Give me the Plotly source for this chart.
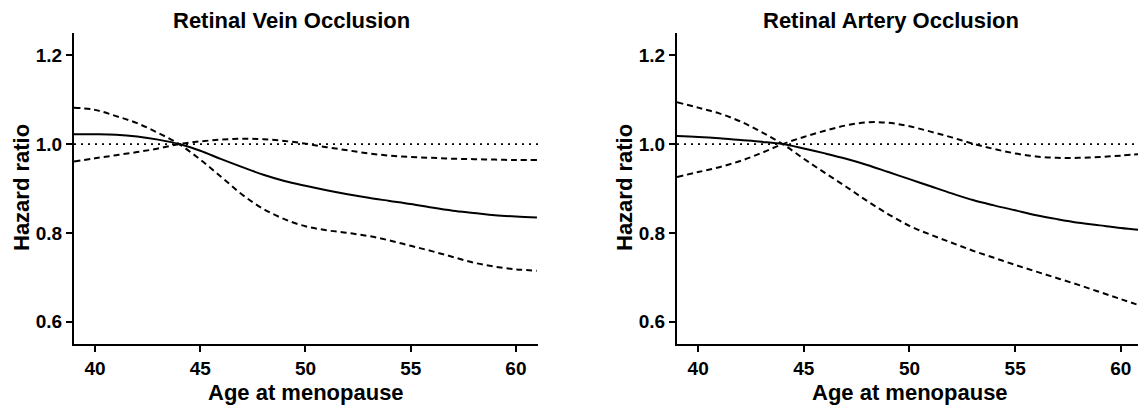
import plotly.graph_objects as go
from plotly.subplots import make_subplots

age = [39, 40, 41, 42, 43, 44, 45, 46, 47, 48, 49, 50, 51, 52, 53, 54, 55, 56, 57, 58, 59, 60, 61]

rvo_hr = [1.022, 1.022, 1.021, 1.017, 1.010, 1.000, 0.985, 0.966, 0.948, 0.931, 0.917, 0.906, 0.896,
          0.887, 0.879, 0.872, 0.865, 0.857, 0.850, 0.845, 0.840, 0.837, 0.835]
rvo_ci_a = [1.082, 1.077, 1.063, 1.047, 1.025, 1.000, 0.965, 0.926, 0.886, 0.854, 0.831, 0.815, 0.806,
            0.800, 0.793, 0.783, 0.771, 0.759, 0.746, 0.733, 0.724, 0.718, 0.715]
rvo_ci_b = [0.961, 0.968, 0.975, 0.982, 0.990, 1.000, 1.006, 1.010, 1.012, 1.011, 1.007, 1.001, 0.993,
            0.986, 0.979, 0.974, 0.971, 0.969, 0.967, 0.966, 0.965, 0.964, 0.964]

rao_hr = [1.018, 1.016, 1.013, 1.009, 1.005, 1.000, 0.990, 0.979, 0.967, 0.953, 0.937, 0.921, 0.905,
          0.889, 0.874, 0.862, 0.851, 0.840, 0.831, 0.823, 0.817, 0.811, 0.806]
rao_ci_a = [1.094, 1.082, 1.069, 1.051, 1.027, 1.000, 0.967, 0.935, 0.904, 0.872, 0.842, 0.816, 0.796,
            0.778, 0.760, 0.744, 0.728, 0.713, 0.698, 0.683, 0.667, 0.651, 0.635]
rao_ci_b = [0.926, 0.937, 0.948, 0.962, 0.980, 1.000, 1.016, 1.030, 1.042, 1.049, 1.048, 1.040, 1.028,
            1.015, 1.001, 0.989, 0.979, 0.972, 0.969, 0.969, 0.971, 0.974, 0.978]

titles = ["Retinal Vein Occlusion", "Retinal Artery Occlusion"]
x_ticks = [40, 45, 50, 55, 60]
y_ticks = [0.6, 0.8, 1.0, 1.2]
y_tick_text = ["0.6", "0.8", "1.0", "1.2"]
ref_x = [39, 61.05]
ref_y = [1.0, 1.0]

# page body has an 8px margin; work in page pixels and convert
OFF = 8
PAGE_W, PAGE_H = 1146, 407
W, H = PAGE_W - OFF, PAGE_H - OFF
PLOT_L, PLOT_R, PLOT_T, PLOT_B = 74, 1143, 33, 344  # page pixels
ML = PLOT_L - OFF
MT = PLOT_T - OFF
MR = W - (PLOT_R - OFF)
MB = H - (PLOT_B - OFF)
PW = W - ML - MR
PH = H - MT - MB

fig = make_subplots(rows=1, cols=2, horizontal_spacing=0.1)

FONT = "Liberation Sans, Arial, sans-serif"
panels = [(rvo_hr, rvo_ci_a, rvo_ci_b), (rao_hr, rao_ci_a, rao_ci_b)]
for i, (hr, ca, cb) in enumerate(panels, start=1):
    fig.add_trace(go.Scatter(x=ref_x, y=ref_y, mode="lines",
                             line=dict(color="black", width=1.8, dash="2px,5px"),
                             showlegend=False, hoverinfo="skip"), row=1, col=i)
    for ci in (ca, cb):
        fig.add_trace(go.Scatter(x=age, y=ci, mode="lines",
                                 line=dict(color="black", width=2, dash="6px,4px", shape="spline"),
                                 showlegend=False), row=1, col=i)
    fig.add_trace(go.Scatter(x=age, y=hr, mode="lines",
                             line=dict(color="black", width=2, shape="spline"),
                             showlegend=False), row=1, col=i)

def px_x(p):
    return (p - PLOT_L) / PW

def px_y(p):
    return (PLOT_B - p) / PH

dom1 = [px_x(74), px_x(538)]
dom2 = [px_x(677), px_x(1143)]

axis_common = dict(showline=True, linecolor="black", linewidth=2, ticks="outside",
                   ticklen=6, tickwidth=2, tickcolor="black", showgrid=False, zeroline=False,
                   tickfont=dict(family=FONT, size=19, color="black", weight="bold"))

fig.update_xaxes(range=[39, 61.05], tickvals=x_ticks, ticktext=[str(v) for v in x_ticks],
                 **axis_common)
fig.update_yaxes(range=[0.55, 1.25], tickvals=y_ticks, ticktext=y_tick_text, **axis_common)
fig.update_layout(xaxis=dict(domain=dom1), xaxis2=dict(domain=dom2),
                  yaxis=dict(domain=[0, 1]), yaxis2=dict(domain=[0, 1]))

annotations = []
title_centers = [291, 891]
for t, cx in zip(titles, title_centers):
    annotations.append(dict(text=t, x=px_x(cx), y=px_y(21), xref="paper", yref="paper",
                            xanchor="center", yanchor="middle", showarrow=False, borderpad=0,
                            font=dict(family=FONT, size=22, color="black", weight="bold")))
for cx in [306, 910]:
    annotations.append(dict(text="Age at menopause", x=px_x(cx), y=px_y(392), xref="paper",
                            yref="paper", xanchor="center", yanchor="middle", showarrow=False,
                            font=dict(family=FONT, size=22, color="black", weight="bold")))
for cx in [21, 624]:
    annotations.append(dict(text="Hazard ratio", x=px_x(cx), y=px_y(188), xref="paper",
                            yref="paper", xanchor="center", yanchor="middle", showarrow=False,
                            textangle=-90,
                            font=dict(family=FONT, size=22, color="black", weight="bold")))

fig.update_layout(width=W, height=H, margin=dict(l=ML, r=MR, t=MT, b=MB),
                  plot_bgcolor="white", paper_bgcolor="white", annotations=annotations,
                  showlegend=False)

fig.write_html("out.html")
